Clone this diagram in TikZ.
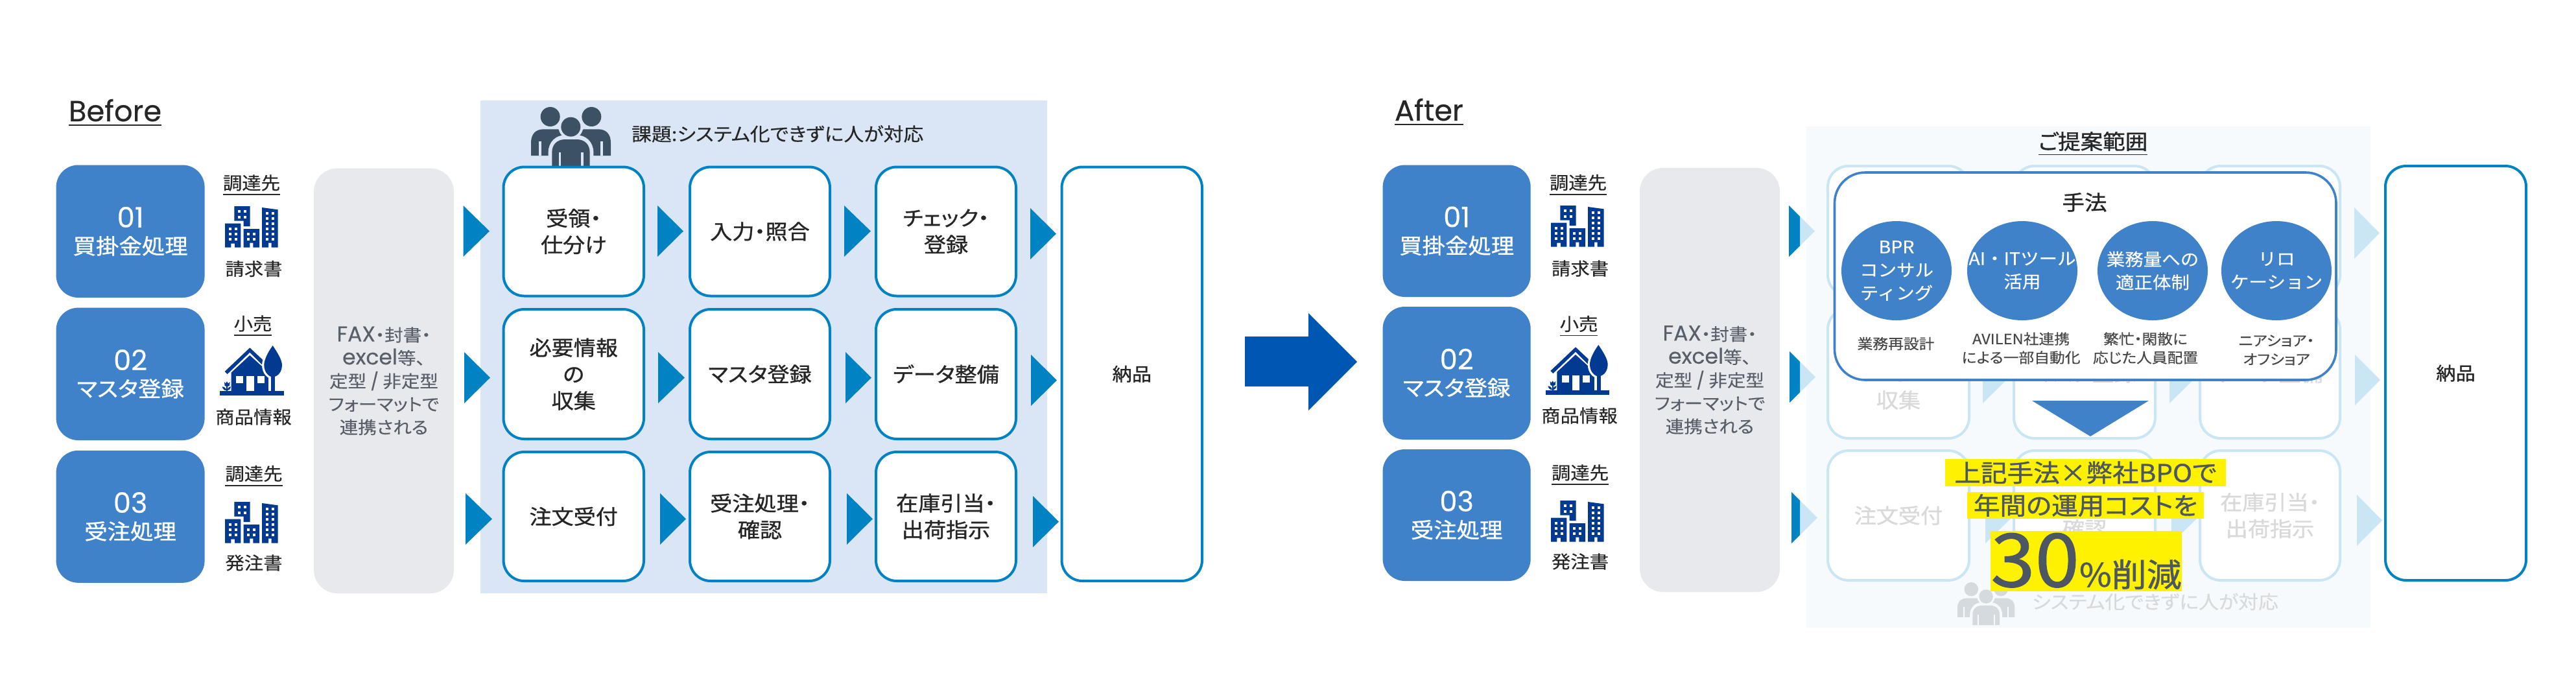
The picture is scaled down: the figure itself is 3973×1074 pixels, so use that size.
\documentclass[tikz,border=0pt]{standalone}
\usepackage{fontspec}
\usetikzlibrary{shapes.geometric}
\setmainfont[RawFeature={+palt},FakeStretch=1.08,FakeBold=0.25]{Noto Sans CJK JP}
\newfontfamily\medf[RawFeature={+palt},FakeStretch=1.08,FakeBold=1]{Noto Sans CJK JP}
\newfontfamily\widef[FakeStretch=1.08,FakeBold=0.25]{Noto Sans CJK JP}
\newfontfamily\lat[FakeBold=0.3]{Poppins}
\newcommand\fs[2]{\fontsize{#1}{#2}\selectfont}
\definecolor{bluebox}{HTML}{3F82C9}
\definecolor{greybox}{HTML}{E8E9ED}
\definecolor{panelA}{HTML}{DAE6F5}
\definecolor{panelB}{HTML}{F6FAFD}
\definecolor{arrowblue}{HTML}{0082C3}
\definecolor{paleline}{HTML}{CAE5F3}
\definecolor{navy}{HTML}{033A91}
\definecolor{bigarrow}{HTML}{0057B3}
\definecolor{txt}{HTML}{262626}
\definecolor{greytxt}{HTML}{595F69}
\definecolor{paletxt}{HTML}{D9D9D9}
\definecolor{yeltxt}{HTML}{4C5763}
\definecolor{people}{HTML}{3C5164}
\definecolor{palepeople}{HTML}{D5DADF}
\tikzset{
  base/.style={rectangle,inner sep=0pt,outer sep=0pt,align=center},
  heading/.style={base,text=txt,font=\lat\fs{11.2}{12}},
  bluenode/.style={base,fill=bluebox,rounded corners=8.5pt,text=white,font=\medf\fs{8.2}{10.25}},
  greynode/.style={base,fill=greybox,rounded corners=9pt,text=greytxt,font=\fs{6.6}{8.9}},
  flownode/.style={base,draw=arrowblue,line width=1pt,fill=white,rounded corners=8pt,text=txt,font=\medf\fs{7.9}{10.25}},
  palenode/.style={base,draw=paleline,line width=1pt,fill=white,rounded corners=8pt,text=paletxt,font=\medf\fs{7.9}{10.25}},
  methodnode/.style={base,draw=bluebox,line width=.9pt,fill=white,rounded corners=11.75pt},
  lab/.style={base,text=txt,font=\fs{6.8}{8}},
  circnode/.style={ellipse,fill=bluebox,inner sep=0pt,minimum width=42.5pt,minimum height=38.25pt},
  circtext/.style={base,text=white,font=\widef\fs{6.6}{8.9}},
  sublab/.style={base,text=txt!85!white,font=\fs{5.5}{7.2}},
  yelnode/.style={base,fill=yellow,text=yeltxt,font=\medf\fs{9.4}{10}},
  tri/.style={fill=arrowblue},
  ptri/.style={fill=paleline}
}
\newcommand\rnode[7]{\node[#6,minimum width={(#4-#2)*0.25pt},minimum height={(#5-#3)*0.25pt}] (#1) at ({(#2+#4)/2},{(#3+#5)/2}) {#7};}
\newcommand\triang[5]{\fill[#5] (#1,#2) -- (#3,{(#2+#4)/2}) -- (#1,#4) -- cycle;}
\newcommand\buildingicon[2]{%
\begin{scope}[shift={(#1,#2)},scale=.33333,shift={(-82,-202)}]
\fill[navy] (125,202)--(198,202)--(198,295)--(168,295)--(168,270)--(125,270)--cycle;
\fill[navy] (82,282)--(155,282)--(155,393)--(127,393)--(127,375)--(110,375)--(110,393)--(82,393)--cycle;
\fill[navy] (168,307)--(241,307)--(241,393)--(212,393)--(212,372)--(197,372)--(197,393)--(168,393)--cycle;
\fill[navy] (253,208)--(327,218)--(327,393)--(297,393)--(297,372)--(283,372)--(283,393)--(253,393)--cycle;
\foreach \wx in {148,175}{\foreach \wy in {227,252}{\fill[white] (\wx-6,\wy-6) rectangle ++(12,12);}}
\foreach \wx in {105,132}{\foreach \wy in {306,331,355}{\fill[white] (\wx-6,\wy-6) rectangle ++(12,12);}}
\foreach \wx in {190,218}{\foreach \wy in {331,355}{\fill[white] (\wx-6,\wy-6) rectangle ++(12,12);}}
\foreach \wx in {277,304}{\foreach \wy in {236,260,284,308,332,355}{\fill[white] (\wx-6,\wy-6) rectangle ++(12,12);}}
\end{scope}}
\newcommand\houseicon[2]{%
\begin{scope}[shift={(#1,#2)},scale=.33333,shift={(-58,-160)}]
\fill[navy] (58,371) rectangle (353,390);
\fill[navy] (110,371)--(110,285)--(196,205)--(290,290)--(290,371)--cycle;
\fill[navy] (80,280)--(196,170)--(258,228)--(254,250)--(196,192)--(92,292)--cycle;
\fill[white] (132,302) rectangle (165,335);
\fill[white] (180,302) rectangle (215,371);
\fill[white] (230,302) rectangle (263,335);
\draw[white,line width=1.6pt,fill=navy] (302,160) .. controls (280,190) and (262,225) .. (262,250) .. controls (262,285) and (285,305) .. (302,305) .. controls (322,305) and (345,285) .. (345,250) .. controls (345,225) and (322,190) .. (302,160) -- cycle;
\fill[white] (283,295) rectangle (295,371);
\fill[navy] (295,300) rectangle (313,371);
\fill[navy] (302,160) .. controls (280,190) and (262,225) .. (262,250) .. controls (262,285) and (285,305) .. (302,305) .. controls (322,305) and (345,285) .. (345,250) .. controls (345,225) and (322,190) .. (302,160) -- cycle;
\fill[navy] (78,328)--(84,335)--(90,326)--(96,335)--(104,328)--(102,345) .. controls (100,350) and (80,350) .. (80,345) -- cycle;
\fill[navy] (87,345) rectangle (93,371);
\fill[navy] (68,350) .. controls (78,350) and (88,358) .. (88,368) .. controls (78,368) and (70,360) .. (68,350) -- cycle;
\fill[navy] (108,350) .. controls (98,350) and (92,358) .. (92,368) .. controls (100,368) and (106,360) .. (108,350) -- cycle;
\end{scope}}
\newcommand\peopleicon[5]{%
\begin{scope}[shift={(#1,#2)},scale={#3/3},shift={(-58,-45)}]
\fill[#4] (58,270)--(58,210) .. controls (58,170) and (80,148) .. (115,148) -- (185,148) -- (230,200) -- (230,270) -- cycle;
\fill[#4] (427,270)--(427,210) .. controls (427,170) and (405,148) .. (370,148) -- (300,148) -- (255,200) -- (255,270) -- cycle;
\fill[#5] (95,205) rectangle (105,270);
\fill[#5] (380,205) rectangle (390,270);
\fill[#4] (147,90) circle[radius=45];
\fill[#4] (338,90) circle[radius=45];
\fill[#5] (242,137) circle[radius=57];
\fill[#5] (138,321) -- (138,255) .. controls (138,205) and (175,175) .. (215,175) -- (270,175) .. controls (310,175) and (347,205) .. (347,255) -- (347,321) -- cycle;
\fill[#4] (242,137) circle[radius=45];
\fill[#4] (155,321) -- (155,255) .. controls (155,218) and (180,195) .. (215,195) -- (270,195) .. controls (305,195) and (330,218) .. (330,255) -- (330,321) -- cycle;
\fill[#5] (187,255) rectangle (197,321);
\fill[#5] (290,255) rectangle (300,321);
\end{scope}}
\begin{document}
\begin{tikzpicture}[x=0.25pt,y=-0.25pt]
\useasboundingbox (0,0) rectangle (3973,1074);
\fill[white] (0,0) rectangle (3973,1074);
% ---------- Before
\node[heading,anchor=base west] (before) at (106,187) {\underline{Before}};
\rnode{ba}{86.6}{254.5}{315.6}{459}{bluenode}{{\lat\fs{10.8}{10.25}01}\\買掛金処理}
\rnode{bb}{86.6}{474.6}{315.6}{679}{bluenode}{{\lat\fs{10.8}{10.25}02}\\マスタ登録}
\rnode{bc}{86.6}{694.8}{315.6}{898.8}{bluenode}{{\lat\fs{10.8}{10.25}03}\\受注処理}
\node[lab] (bl1) at (388,286) {\underline{調達先}};
\buildingicon{347}{318}
\node[lab] (bl2) at (391.5,414.5) {請求書};
\node[lab] (bl3) at (390,503) {\underline{小売}};
\houseicon{339.3}{533}
\node[lab] (bl4) at (391,643) {商品情報};
\node[lab] (bl5) at (391.5,734.5) {\underline{調達先}};
\buildingicon{347}{774}
\node[lab] (bl6) at (391.5,868) {発注書};
\rnode{bg}{484}{259.6}{700}{915}{greynode}{{\lat\fs{8.25}{8.9}FAX}・封書・\\{\lat\fs{8.25}{8.9}excel}等、\\定型 {\lat /} 非定型\\フォーマットで\\連携される}
\fill[panelA] (741.3,154.5) rectangle (1615,914.7);
\peopleicon{819}{165}{1}{people}{panelA}
\node[lab,anchor=west,font=\fs{7.15}{8}] (bissue) at (974,206.5) {課題:システム化できずに人が対応};
\rnode{b11}{776.5}{257.5}{993}{456.5}{flownode}{受領・\\仕分け}
\rnode{b12}{1064}{257.5}{1280}{456.5}{flownode}{入力・照合}
\rnode{b13}{1351}{257.5}{1567}{456.5}{flownode}{チェック・\\登録}
\rnode{b21}{776.5}{477}{993}{677}{flownode}{必要情報\\の\\収集}
\rnode{b22}{1064}{477}{1280}{677}{flownode}{マスタ登録}
\rnode{b23}{1351}{477}{1567}{677}{flownode}{データ整備}
\rnode{b31}{776.5}{697}{993}{896}{flownode}{注文受付}
\rnode{b32}{1064}{697}{1280}{896}{flownode}{受注処理・\\確認}
\rnode{b33}{1351}{697}{1567}{896}{flownode}{在庫引当・\\出荷指示}
\rnode{bdone}{1637.5}{257.5}{1854}{896}{flownode}{\fs{7}{9}\selectfont 納品}
\triang{714.5}{317}{755}{396}{tri}
\triang{1014}{317}{1054}{396}{tri}
\triang{1302}{317}{1343}{396}{tri}
\triang{1589}{321}{1629}{400}{tri}
\triang{716}{543}{756}{622}{tri}
\triang{1015}{543}{1056}{622}{tri}
\triang{1304}{543}{1344}{622}{tri}
\triang{1590}{547}{1630}{626}{tri}
\triang{718}{760.6}{759}{840}{tri}
\triang{1018}{760.6}{1058}{840}{tri}
\triang{1306}{760.6}{1346}{840}{tri}
\triang{1593}{765}{1633}{844}{tri}
% ---------- big arrow
\fill[bigarrow] (1920,519) -- (2018,519) -- (2018,483) -- (2093,558) -- (2018,633) -- (2018,596) -- (1920,596) -- cycle;
% ---------- After
\node[heading,anchor=base west] (after) at (2151,186) {\underline{After}};
\rnode{aa}{2132.6}{254.5}{2360.7}{458}{bluenode}{{\lat\fs{10.8}{10.25}01}\\買掛金処理}
\rnode{ab}{2132.6}{473}{2360.7}{678}{bluenode}{{\lat\fs{10.8}{10.25}02}\\マスタ登録}
\rnode{ac}{2132.6}{693}{2360.7}{896}{bluenode}{{\lat\fs{10.8}{10.25}03}\\受注処理}
\node[lab] (al1) at (2434,285.6) {\underline{調達先}};
\buildingicon{2392}{317}
\node[lab] (al2) at (2437,414) {請求書};
\node[lab] (al3) at (2435,503.5) {\underline{小売}};
\houseicon{2384}{532}
\node[lab] (al4) at (2436,641) {商品情報};
\node[lab] (al5) at (2437,733) {\underline{調達先}};
\buildingicon{2392}{772}
\node[lab] (al6) at (2437,866) {発注書};
\rnode{ag}{2529}{259}{2745}{913}{greynode}{{\lat\fs{8.25}{8.9}FAX}・封書・\\{\lat\fs{8.25}{8.9}excel}等、\\定型 {\lat /} 非定型\\フォーマットで\\連携される}
\fill[panelB] (2786,195) rectangle (3656,968);
\peopleicon{3019}{898}{.718}{palepeople}{panelB}
\node[lab,anchor=west,text=paletxt,font=\fs{7.15}{8}] (aissue) at (3134,928) {システム化できずに人が対応};
\rnode{a11}{2819}{256}{3037}{456}{palenode}{}
\rnode{a12}{3106}{256}{3324}{456}{palenode}{}
\rnode{a13}{3393}{256}{3609}{456}{palenode}{}
\rnode{a21}{2819}{476}{3037}{676}{palenode}{必要情報\\の\\収集}
\rnode{a22}{3106}{476}{3324}{676}{palenode}{マスタ登録}
\rnode{a23}{3393}{476}{3609}{676}{palenode}{データ整備}
\rnode{a31}{2819}{695}{3037}{895}{palenode}{注文受付}
\rnode{a32}{3106}{695}{3324}{895}{palenode}{受注処理・\\確認}
\rnode{a33}{3393}{695}{3609}{895}{palenode}{在庫引当・\\出荷指示}
\rnode{adone}{3679}{256}{3896}{895}{flownode}{\fs{7}{9}\selectfont 納品}
\triang{2759}{317}{2799}{396}{ptri}
\triang{3631}{320}{3670}{399}{ptri}
\triang{2760}{542}{2800}{621}{ptri}
\triang{3058}{543}{3098}{622}{ptri}
\triang{3346}{543}{3386}{622}{ptri}
\triang{3632}{547}{3671}{625}{ptri}
\triang{2763}{759}{2803}{838}{ptri}
\triang{3062}{760}{3102}{838}{ptri}
\triang{3349}{760}{3389}{838}{ptri}
\triang{3635}{763}{3674}{842}{ptri}
\begin{scope}
\clip (2750,300) rectangle (2776,860);
\triang{2759}{317}{2799}{396}{tri}
\triang{2760}{542}{2800}{621}{tri}
\triang{2763}{759}{2803}{838}{tri}
\end{scope}
\node[base,text=txt,font=\medf\fs{8}{9}] (ascope) at (3228,222) {\underline{ご提案範囲}};
\rnode{method}{2829.5}{266}{3603}{586}{methodnode}{}
\node[base,text=txt,font=\medf\fs{8}{9}] (methodt) at (3215,312) {手法};
\node[circnode] (m1) at (2925,417.5) {};
\node[circnode] (m2) at (3119,417.5) {};
\node[circnode] (m3) at (3320,417.5) {};
\node[circnode] (m4) at (3511,417.5) {};
\node[circtext] (m1t) at (m1) {BPR\\コンサル\\ティング};
\node[circtext] (m2t) at (m2) {AI・ITツール\\活用};
\node[circtext] (m3t) at (m3) {業務量への\\適正体制};
\node[circtext] (m4t) at (m4) {リロ\\ケーション};
\node[sublab] (s1) at (2924,530) {業務再設計};
\node[sublab] (s2) at (3117,537) {AVILEN社連携\\による一部自動化};
\node[sublab] (s3) at (3309,537) {繁忙・閑散に\\応じた人員配置};
\node[sublab] (s4) at (3511,540) {ニアショア・\\オフショア};
\fill[bluebox] (3134,618) -- (3314,618) -- (3224,673) -- cycle;
\rnode{y1}{3000}{708}{3433}{750}{yelnode}{上記手法×弊社BPOで}
\rnode{y2}{3034}{759}{3399}{800}{yelnode}{年間の運用コストを}
\rnode{y3}{3071}{819}{3364}{912}{yelnode}{{\fs{28.5}{28}30}{\fs{12.5}{12}\%削減}}
\end{tikzpicture}
\end{document}
